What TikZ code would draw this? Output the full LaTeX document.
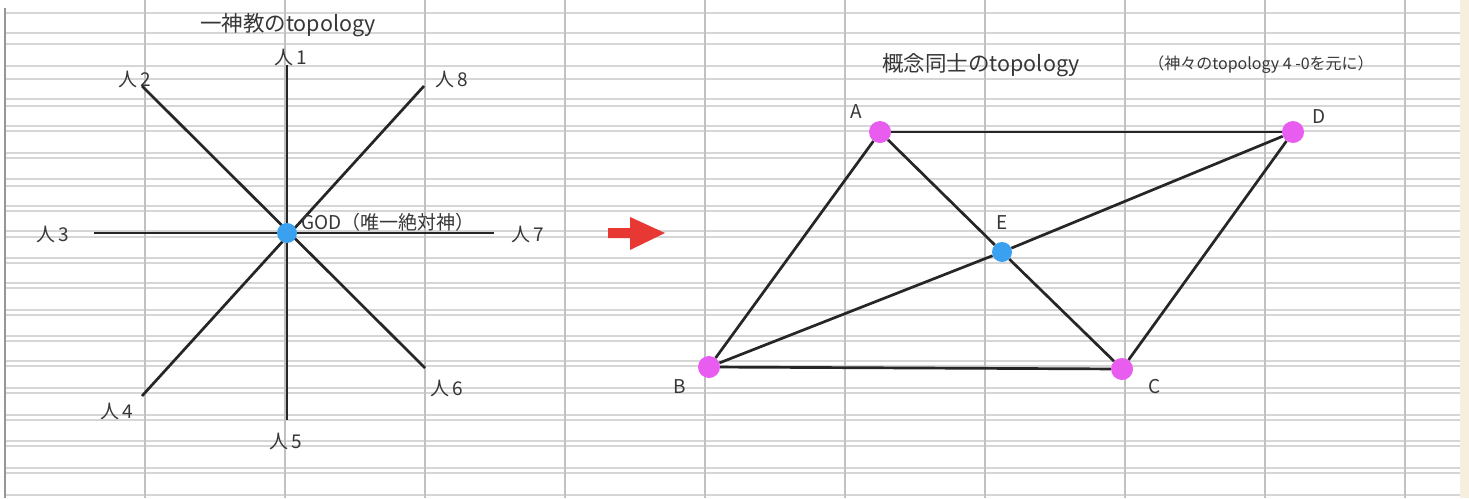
\documentclass[tikz,border=0pt]{standalone}
\usepackage{fontspec}
\setmainfont{Noto Sans CJK JP}
\usepackage{xcolor}
\usetikzlibrary{positioning}
\definecolor{gridgray}{RGB}{214,214,214}
\definecolor{gridedge}{RGB}{150,150,150}
\definecolor{sheetedge}{RGB}{246,239,224}
\definecolor{inkgray}{RGB}{55,55,55}
\definecolor{godblue}{RGB}{58,160,240}
\definecolor{ptpink}{RGB}{232,92,240}
\definecolor{arrowred}{RGB}{232,56,52}

\begin{document}
\begin{tikzpicture}[
    x=1pt, y=-1pt,
    every node/.style={font=\fontsize{19}{19}\selectfont, text=inkgray, inner sep=0pt},
    title/.style={font=\fontsize{21.5}{21.5}\selectfont},
    note/.style={font=\fontsize{16}{16}\selectfont},
    hline/.style={draw=gridgray, line width=1.5pt},
    vline/.style={draw=gridgray!90!black, line width=2pt},
    edge/.style={draw=black!85, line width=2.7pt},
    god/.style={circle, fill=godblue, minimum size=20pt},
    pt/.style={circle, fill=ptpink, minimum size=22pt},
    hub/.style={circle, fill=godblue, minimum size=20pt}
]

% sheet
\useasboundingbox (0,0) rectangle (1469,498);
\fill[white] (0,0) rectangle (1469,498);
\fill[sheetedge] (1460,0) rectangle (1469,498);
\foreach \y in {13,33,44,66,79,99,106,126,131,153,158,179,186,206,211,231,237,
                258,263,283,288,310,315,336,341,361,366,388,393,415,420,441,446,468,473,495}
  \draw[hline] (5,\y) -- (1460,\y);
\foreach \x in {145,285,...,1405}
  \draw[vline] (\x,0) -- (\x,498);
\draw[draw=gridedge, line width=2pt] (5,8) -- (5,498);

% one god, eight people
\node[title] (titleL) at (288,25) {一神教のtopology};
\coordinate (p1) at (287,65);
\coordinate (p2) at (142,86);
\coordinate (p3) at (94,233);
\coordinate (p4) at (142,396);
\coordinate (p5) at (287,420);
\coordinate (p6) at (425,368);
\coordinate (p7) at (494,233);
\coordinate (p8) at (424,86);
\draw[edge] (p1) -- (p5);
\draw[edge] (p2) -- (p6);
\draw[edge] (p3) -- (p7);
\draw[edge] (p8) -- (p4);
\node[god] (god) at (287,233) {};
\node[anchor=west] (godlbl) at (301,222) {GOD（唯一絶対神）};

\node (h1) at (291,57) {人\,1};
\node (h2) at (135,79) {人\,2};
\node (h3) at (53,234) {人\,3};
\node (h4) at (117,411) {人\,4};
\node (h5) at (286,441) {人\,5};
\node (h6) at (447,388) {人\,6};
\node (h7) at (528,234) {人\,7};
\node (h8) at (452,79) {人\,8};

% arrow
\fill[arrowred] (608,228) -- (630,228) -- (630,217) -- (665,233)
  -- (630,250) -- (630,238) -- (608,238) -- cycle;

% concepts
\node[title] (titleR) at (981,65) {概念同士のtopology};
\node[note] (noteR) at (1261,65) {（神々のtopology 4 -0を元に）};

\node[pt] (A) at (880,132) {};
\node[pt] (D) at (1293,132) {};
\node[pt] (B) at (709,367) {};
\node[pt] (C) at (1122,369) {};
\node[hub] (E) at (1002,252) {};

\draw[edge] (A) -- (D);
\draw[edge] (B) -- (C);
\draw[edge] (A) -- (B);
\draw[edge] (D) -- (C);
\draw[edge] (A) -- (E);
\draw[edge] (E) -- (C);
\draw[edge] (B) -- (E);
\draw[edge] (E) -- (D);

\node[above left=5.5pt and 10pt of A] (lA) {A};
\node[above right=0pt and 11pt of D] (lD) {D};
\node[above=12pt of E] (lE) {E};
\node[below left=4pt and 15pt of B] (lB) {B};
\node[below right=2pt and 18pt of C] (lC) {C};

\end{tikzpicture}
\end{document}
